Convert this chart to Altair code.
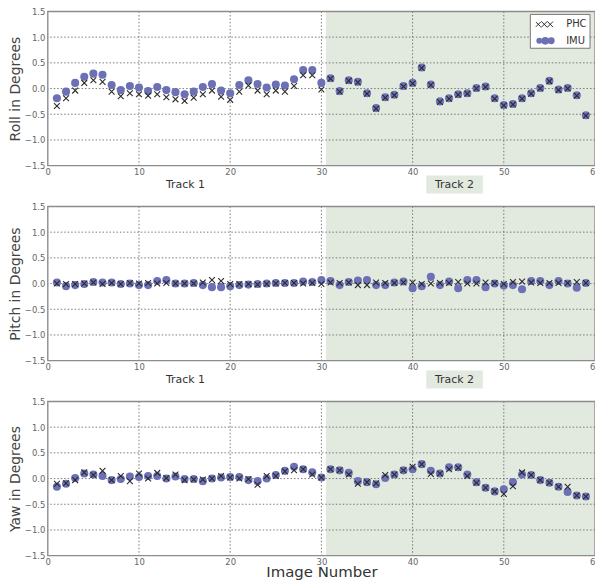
import altair as alt
import pandas as pd

# ---------------- data ----------------
images = list(range(1, 60))

roll_imu = [-0.19, -0.06, 0.11, 0.23, 0.29, 0.27, 0.07, -0.03, 0.05, 0.02,
            -0.05, 0.03, -0.03, -0.07, -0.11, -0.06, 0.03, 0.09, -0.04, -0.09,
            0.07, 0.16, 0.09, 0.02, 0.08, 0.06, 0.18, 0.36, 0.36, 0.11,
            0.20, -0.05, 0.16, 0.13, -0.09, -0.38, -0.17, -0.12, 0.05, 0.11,
            0.41, 0.08, -0.25, -0.19, -0.11, -0.09, 0.01, 0.04, -0.19, -0.32,
            -0.30, -0.19, -0.09, 0.01, 0.15, -0.02, 0.01, -0.13, -0.52]
roll_phc = [-0.34, -0.19, -0.04, 0.11, 0.16, 0.13, -0.06, -0.15, -0.09, -0.11,
            -0.14, -0.11, -0.17, -0.21, -0.24, -0.18, -0.11, -0.04, -0.16, -0.22,
            -0.06, 0.06, -0.04, -0.11, -0.04, -0.06, 0.05, 0.26, 0.26, -0.02,
            0.19, -0.06, 0.15, 0.12, -0.10, -0.39, -0.18, -0.13, 0.04, 0.10,
            0.40, 0.07, -0.26, -0.20, -0.12, -0.10, 0.00, 0.03, -0.20, -0.33,
            -0.31, -0.20, -0.10, 0.00, 0.14, -0.03, 0.00, -0.14, -0.53]

pitch_imu = [0.02, -0.05, -0.03, -0.01, 0.03, 0.02, 0.02, -0.01, 0.00, -0.03,
             -0.03, 0.05, 0.07, 0.00, 0.00, 0.01, -0.03, -0.07, -0.07, -0.05,
             -0.03, -0.02, -0.01, 0.00, 0.01, 0.01, 0.01, 0.04, 0.03, 0.07,
             0.05, -0.03, 0.03, 0.06, 0.07, -0.03, -0.03, 0.02, 0.04, -0.09,
             -0.05, 0.13, -0.03, 0.04, -0.09, 0.07, 0.07, -0.07, 0.00, -0.04,
             -0.03, -0.11, 0.05, 0.05, -0.03, 0.05, 0.00, -0.08, 0.01]
pitch_phc = [0.00, -0.01, -0.01, 0.00, 0.02, -0.01, 0.01, -0.01, 0.01, 0.00,
             0.01, 0.00, 0.01, 0.00, 0.00, 0.00, 0.02, 0.07, 0.05, -0.01,
             -0.01, -0.01, -0.02, -0.01, 0.00, 0.01, 0.01, 0.00, 0.01, -0.01,
             0.02, 0.01, 0.02, -0.03, -0.03, 0.02, 0.01, 0.01, 0.02, 0.02,
             -0.01, 0.00, 0.01, 0.01, 0.03, 0.00, 0.00, 0.02, 0.01, -0.01,
             0.03, 0.04, 0.02, 0.01, 0.01, 0.01, 0.01, 0.03, 0.01]

yaw_imu = [-0.16, -0.10, 0.01, 0.10, 0.08, 0.05, -0.03, -0.01, 0.04, 0.03,
           0.05, 0.05, 0.00, 0.04, -0.01, -0.01, -0.05, 0.00, 0.02, 0.03,
           0.03, -0.03, -0.05, 0.00, 0.07, 0.15, 0.23, 0.18, 0.12, 0.02,
           0.18, 0.16, 0.11, -0.05, -0.07, -0.11, 0.01, 0.08, 0.16, 0.18,
           0.28, 0.15, 0.10, 0.22, 0.22, 0.08, -0.07, -0.18, -0.25, -0.21,
           -0.07, 0.08, 0.07, -0.03, -0.08, -0.16, -0.26, -0.33, -0.35]
yaw_phc = [-0.10, -0.09, -0.03, 0.12, 0.07, 0.15, -0.03, 0.05, -0.05, 0.10,
           0.00, 0.11, 0.01, 0.08, -0.03, -0.02, -0.02, 0.00, 0.05, 0.02,
           0.00, -0.01, -0.12, 0.05, 0.05, 0.14, 0.16, 0.18, 0.08, 0.02,
           0.18, 0.16, 0.08, -0.10, -0.07, -0.09, 0.07, 0.08, 0.16, 0.23,
           0.28, 0.09, 0.10, 0.18, 0.21, 0.05, -0.08, -0.18, -0.25, -0.30,
           -0.15, 0.12, 0.07, -0.03, -0.08, -0.16, -0.16, -0.33, -0.35]

x_ticks = [0, 10, 20, 30, 40, 50, 60]
y_ticks = [-1.5, -1.0, -0.5, 0.0, 0.5, 1.0, 1.5]
grid_x = [10, 20, 30, 40, 50]
grid_y = [-1.0, -0.5, 0.0, 0.5, 1.0]
track2_span = [30.5, 60]
track_names = ["Track 1", "Track 2"]
track_centers = [15.1, 44.6]
track2_box = [41.5, 47.7]
series_names = ["PHC", "IMU"]

# ---------------- style ----------------
W, H = 550, 155
FONT = "DejaVu Sans"
SHADE = "#e2eadf"
IMU_COLOR = "#6c70b5"
PHC_COLOR = "#2b2b2b"
GRID = "#5a5a5a"
FRAME = "#8c8c8c"
X_PATH = "M-1,-1L1,1M1,-1L-1,1"

xscale = alt.Scale(domain=[0, 60], nice=False, zero=False)
yscale = alt.Scale(domain=[-1.5, 1.5], nice=False, zero=False)


def px2x(p):
    return p / W * 60.0


def py2y(p):
    return 1.5 - p / H * 3.0


def panel(imu, phc, ytitle, show_tracks, xtitle, show_legend):
    if xtitle:
        xaxis = alt.Axis(values=x_ticks, format="d", grid=False, ticks=False, domain=False,
                         labelFlush=False,
                         labelPadding=2, labelFontSize=8.5, labelColor="#666",
                         labelFont=FONT, title=xtitle, titleFont=FONT, titleFontSize=15,
                         titleFontWeight="normal", titleColor="#333", titlePadding=-2)
    else:
        xaxis = alt.Axis(values=x_ticks, format="d", grid=False, ticks=False, domain=False,
                         labelFlush=False,
                         labelPadding=2, labelFontSize=8.5, labelColor="#666",
                         labelFont=FONT, title=None)
    yaxis = alt.Axis(values=y_ticks, format=".1f", grid=False, ticks=False, domain=False,
                     labelPadding=3, labelFontSize=8.5, labelColor="#666", labelFont=FONT,
                     title=ytitle, titleFont=FONT, titleFontSize=14, titleFontWeight="normal",
                     titleColor="#444", titlePadding=2)

    df = pd.DataFrame({"image": images, "IMU": imu, "PHC": phc})

    shade = alt.Chart(pd.DataFrame({"x0": [track2_span[0]], "x1": [track2_span[1]]})).mark_rect(
        color=SHADE).encode(
        x=alt.X("x0:Q", scale=xscale, axis=xaxis), x2="x1:Q",
        y=alt.value(0), y2=alt.value(H))

    gy = alt.Chart(pd.DataFrame({"v": grid_y})).mark_rule(
        color=GRID, strokeDash=[1.5, 2], strokeWidth=0.8).encode(
        y=alt.Y("v:Q", scale=yscale, axis=yaxis))
    gx = alt.Chart(pd.DataFrame({"v": grid_x})).mark_rule(
        color=GRID, strokeDash=[1.5, 2], strokeWidth=0.8).encode(
        x=alt.X("v:Q", scale=xscale, axis=xaxis))

    imu_pts = alt.Chart(df).mark_point(
        shape="circle", filled=True, color=IMU_COLOR, size=66, opacity=1).encode(
        x=alt.X("image:Q", scale=xscale, axis=xaxis),
        y=alt.Y("IMU:Q", scale=yscale, axis=yaxis))
    phc_pts = alt.Chart(df).mark_point(
        shape=X_PATH, filled=False, color=PHC_COLOR, size=34, strokeWidth=1.1, opacity=1).encode(
        x=alt.X("image:Q", scale=xscale, axis=xaxis),
        y=alt.Y("PHC:Q", scale=yscale, axis=yaxis))

    frame = alt.Chart(pd.DataFrame({"a": [0]})).mark_rect(
        filled=False, stroke=FRAME, strokeWidth=1.4).encode(
        x=alt.value(0), x2=alt.value(W), y=alt.value(0), y2=alt.value(H))

    layers = [shade, gy, gx, imu_pts, phc_pts, frame]

    if show_tracks:
        tdf = pd.DataFrame({"name": track_names, "c": track_centers})
        box = alt.Chart(pd.DataFrame({"x0": [track2_box[0]], "x1": [track2_box[1]]})).mark_rect(
            color=SHADE).encode(
            x=alt.X("x0:Q", scale=xscale, axis=xaxis), x2="x1:Q",
            y=alt.value(H + 10), y2=alt.value(H + 28))
        txt = alt.Chart(tdf).mark_text(
            font=FONT, fontSize=11, color="#333", baseline="middle", align="center").encode(
            x=alt.X("c:Q", scale=xscale, axis=xaxis), y=alt.value(H + 19), text="name:N")
        layers += [box, txt]

    if show_legend:
        # legend drawn in the plot's own data units
        lbox = pd.DataFrame({"x0": [px2x(485)], "x1": [px2x(545)],
                             "y0": [py2y(3)], "y1": [py2y(37)]})
        lb = alt.Chart(lbox).mark_rect(fill="white", stroke="#777", strokeWidth=1).encode(
            x=alt.X("x0:Q", scale=xscale, axis=xaxis), x2="x1:Q",
            y=alt.Y("y0:Q", scale=yscale, axis=yaxis), y2="y1:Q")
        lp = pd.DataFrame({"x": [px2x(v) for v in [493, 499, 505]],
                           "y": [py2y(13)] * 3, "s": [22, 40, 30]})
        li = pd.DataFrame({"x": [px2x(v) for v in [494, 500, 506]],
                           "y": [py2y(29.5)] * 3, "s": [35, 60, 48]})
        lpm = alt.Chart(lp).mark_point(shape=X_PATH, filled=False, color=PHC_COLOR,
                                       strokeWidth=1.0, opacity=1).encode(
            x=alt.X("x:Q", scale=xscale, axis=xaxis), y=alt.Y("y:Q", scale=yscale, axis=yaxis),
            size=alt.Size("s:Q", scale=None, legend=None))
        lim = alt.Chart(li).mark_point(shape="circle", filled=True, color=IMU_COLOR,
                                       opacity=1).encode(
            x=alt.X("x:Q", scale=xscale, axis=xaxis), y=alt.Y("y:Q", scale=yscale, axis=yaxis),
            size=alt.Size("s:Q", scale=None, legend=None))
        lt = pd.DataFrame({"name": series_names, "x": [px2x(521)] * 2,
                           "y": [py2y(13), py2y(29.5)]})
        ltm = alt.Chart(lt).mark_text(font=FONT, fontSize=10, color="#333", align="left",
                                      baseline="middle").encode(
            x=alt.X("x:Q", scale=xscale, axis=xaxis), y=alt.Y("y:Q", scale=yscale, axis=yaxis),
            text="name:N")
        layers += [lb, lpm, lim, ltm]

    return alt.layer(*layers).properties(width=W, height=H)


p1 = panel(roll_imu, roll_phc, "Roll in Degrees", True, None, True)
p2 = panel(pitch_imu, pitch_phc, "Pitch in Degrees", True, None, False)
p3 = panel(yaw_imu, yaw_phc, "Yaw in Degrees", False, "Image Number", False)

chart = alt.vconcat(p1, p2, p3, spacing=9).properties(
    padding={"top": -2, "left": 0, "right": -6, "bottom": 0},
    background="white",
).configure_view(strokeWidth=0)

chart.save("out.html", embed_options={"renderer": "svg", "actions": False})
